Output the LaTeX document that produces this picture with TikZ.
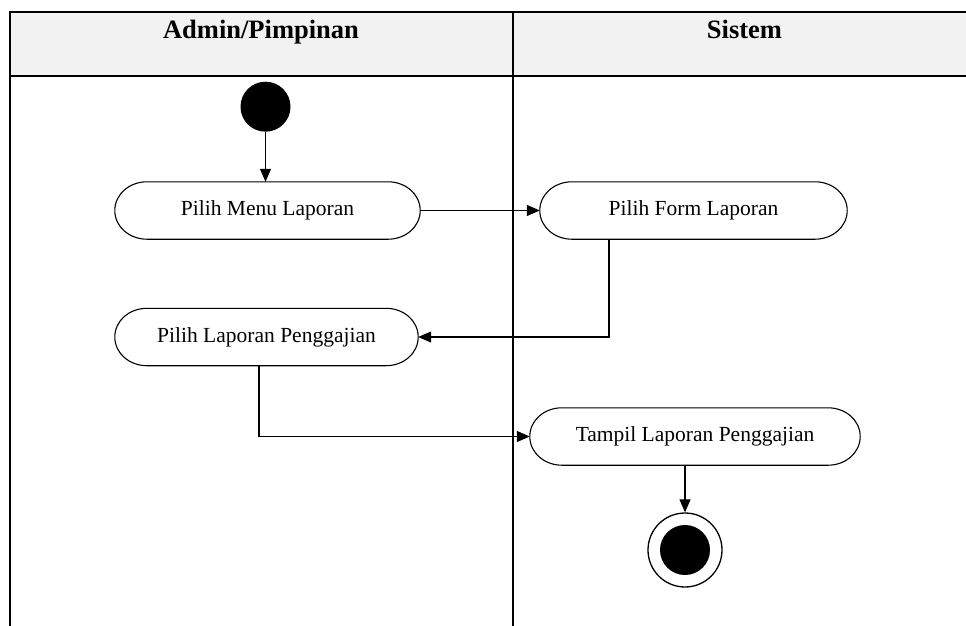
\documentclass[tikz,border=0pt]{standalone}
\usepackage{fontspec}
\setmainfont{Liberation Serif}
\usetikzlibrary{arrows.meta}
\definecolor{hdr}{HTML}{F2F2F2}
\begin{document}
\begin{tikzpicture}[x=1pt,y=-1pt,
  act/.style={minimum height=57pt, inner sep=0pt, font=\fontsize{21.5}{24}\selectfont},
  actline/.style={line width=1.1pt},
  flow/.style={line width=1.1pt, -{Triangle[length=13pt,width=11pt]}},
  lane/.style={line width=2pt},
  hdrtext/.style={font=\bfseries\fontsize{26.5}{30}\selectfont, inner sep=0pt, anchor=base},
  startdot/.style={circle, fill=black, minimum size=50pt, inner sep=0pt},
  endring/.style={circle, draw, line width=1.3pt, minimum size=74pt, inner sep=0pt}]
\useasboundingbox (0,0) rectangle (966,626);
% swimlanes
\fill[hdr] (10,12) rectangle (966,76);
\draw[lane] (966,12) -- (10,12) -- (10,626);
\draw[lane] (10,76) -- (966,76);
\draw[lane] (513,12) -- (513,626);
\node[hdrtext] (h1) at (261,39) {Admin/Pimpinan};
\node[hdrtext] (h2) at (744.5,39) {Sistem};
% nodes
\node[startdot] (start) at (265.5,106.7) {};
\node[act, minimum width=305pt] (menu) at (267.5,210.5) {Pilih Menu Laporan};
\node[act, minimum width=307pt] (form) at (693.5,210.5) {Pilih Form Laporan};
\node[act, minimum width=303pt] (gaji) at (266.5,337) {Pilih Laporan Penggajian};
\node[act, minimum width=330pt] (tampil) at (695,436.5) {Tampil Laporan Penggajian};
\node[endring] (end) at (685,550) {};
\node[startdot] (endin) at (end.center) {};
% activity outlines (elliptical ends)
\foreach \n in {menu,form,gaji,tampil}{
  \draw[actline] ([xshift=32pt]\n.north west) -- ([xshift=-32pt]\n.north east)
    to[out=0,in=90] (\n.east) to[out=-90,in=0] ([xshift=-32pt]\n.south east)
    -- ([xshift=32pt]\n.south west) to[out=180,in=-90] (\n.west)
    to[out=90,in=180] cycle;
}
% connectors
\coordinate (k1) at (609,337);
\coordinate (k2) at (259,437);
\draw[flow] (start.south) -- (start.south |- menu.north);
\draw[flow] (menu.east) -- (form.west);
\draw[flow] (k1 |- form.south) |- (gaji.east);
\draw[flow] (k2 |- gaji.south) |- (tampil.west);
\draw[flow] (end.north |- tampil.south) -- (end.north);
\end{tikzpicture}
\end{document}
